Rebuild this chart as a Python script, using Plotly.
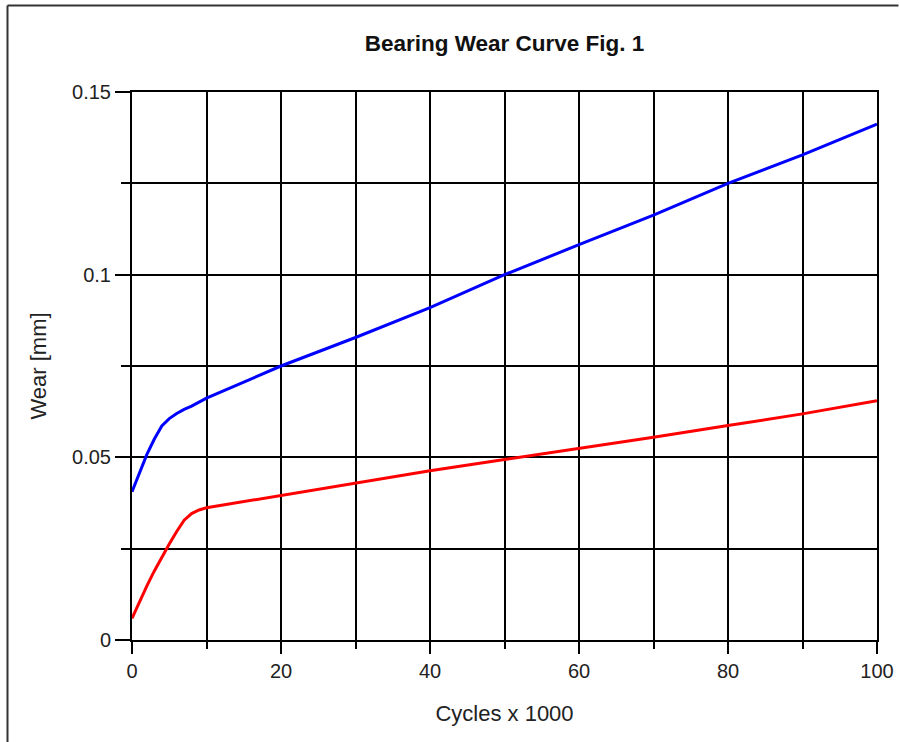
import plotly.graph_objects as go

cycles_blue = [0, 1, 2, 3, 4, 5, 6, 7, 8, 10, 15, 20, 25, 30, 40, 50, 60, 70, 80, 90, 100]
wear_blue = [0.0406, 0.0455, 0.0508, 0.0550, 0.0586, 0.0606, 0.0620, 0.0631, 0.0640, 0.0662,
             0.0706, 0.0750, 0.0789, 0.0828, 0.0910, 0.1000, 0.1082, 0.1163, 0.1250, 0.1328, 0.1412]

cycles_red = [0, 1, 2, 3, 4, 5, 6, 7, 8, 9, 10, 20, 30, 40, 50, 60, 70, 80, 90, 100]
wear_red = [0.0059, 0.0104, 0.0148, 0.0189, 0.0228, 0.0263, 0.0297, 0.0328, 0.0346, 0.0356,
            0.0362, 0.0396, 0.0429, 0.0463, 0.0494, 0.0524, 0.0555, 0.0587, 0.0619, 0.0655]

title_text = "Bearing Wear Curve Fig. 1"
x_title = "Cycles x 1000"
y_title = "Wear [mm]"

fig = go.Figure()
fig.add_trace(go.Scatter(x=cycles_blue, y=wear_blue, mode="lines",
                         line=dict(color="#0000FF", width=3), showlegend=False))
fig.add_trace(go.Scatter(x=cycles_red, y=wear_red, mode="lines",
                         line=dict(color="#FF0000", width=3), showlegend=False))

font_family = "Liberation Sans, Arial, sans-serif"

fx0 = (7.5 - 132) / 745
fy1 = (640 - 5.5) / 548
fx1 = (898.5 - 132) / 745

fig.update_layout(
    width=899, height=742,
    margin=dict(l=132, r=22, t=92, b=102, autoexpand=False),
    paper_bgcolor="white", plot_bgcolor="white",
    font=dict(family=font_family, color="#222222"),
    title=dict(text="<b>" + title_text + "</b>", x=0.5, xref="paper",
               y=1 - 43 / 742, yanchor="middle", font=dict(size=22.5, color="#111111")),
    xaxis=dict(range=[0, 100], dtick=20, tick0=0, ticks="outside", ticklen=12, tickwidth=2,
               tickcolor="black", showgrid=True, gridcolor="black", gridwidth=2, automargin=False,
               showline=True, linecolor="black", linewidth=2, mirror=True, zeroline=False,
               ticklabeloverflow="allow",
               tickfont=dict(size=20), title=dict(text=x_title, font=dict(size=22), standoff=25),
               minor=dict(dtick=10, tick0=0, ticks="outside", ticklen=7, tickwidth=2,
                          tickcolor="black", showgrid=True, gridcolor="black", gridwidth=2)),
    yaxis=dict(range=[0, 0.15], dtick=0.05, tick0=0, ticks="outside", ticklen=15, tickwidth=2,
               tickcolor="black", showgrid=True, gridcolor="black", gridwidth=2, automargin=False,
               showline=True, linecolor="black", linewidth=2, mirror=True, zeroline=False,
               tickfont=dict(size=20), title=dict(text=y_title, font=dict(size=22), standoff=19),
               minor=dict(dtick=0.025, tick0=0, ticks="outside", ticklen=9, tickwidth=2,
                          tickcolor="black", showgrid=True, gridcolor="black", gridwidth=2)),
    shapes=[
        dict(type="line", xref="paper", yref="paper", x0=fx0, x1=fx0, y0=-0.2, y1=fy1,
             line=dict(color="#333333", width=2), layer="below"),
        dict(type="line", xref="paper", yref="paper", x0=fx0, x1=fx1, y0=fy1, y1=fy1,
             line=dict(color="#333333", width=2), layer="below"),
    ],
)

fig.write_html(
    "out.html", config={"displayModeBar": False},
    post_script=("document.body.style.margin='0px';"
                 "document.body.style.overflow='hidden';"
                 "document.documentElement.style.overflow='hidden';"))
